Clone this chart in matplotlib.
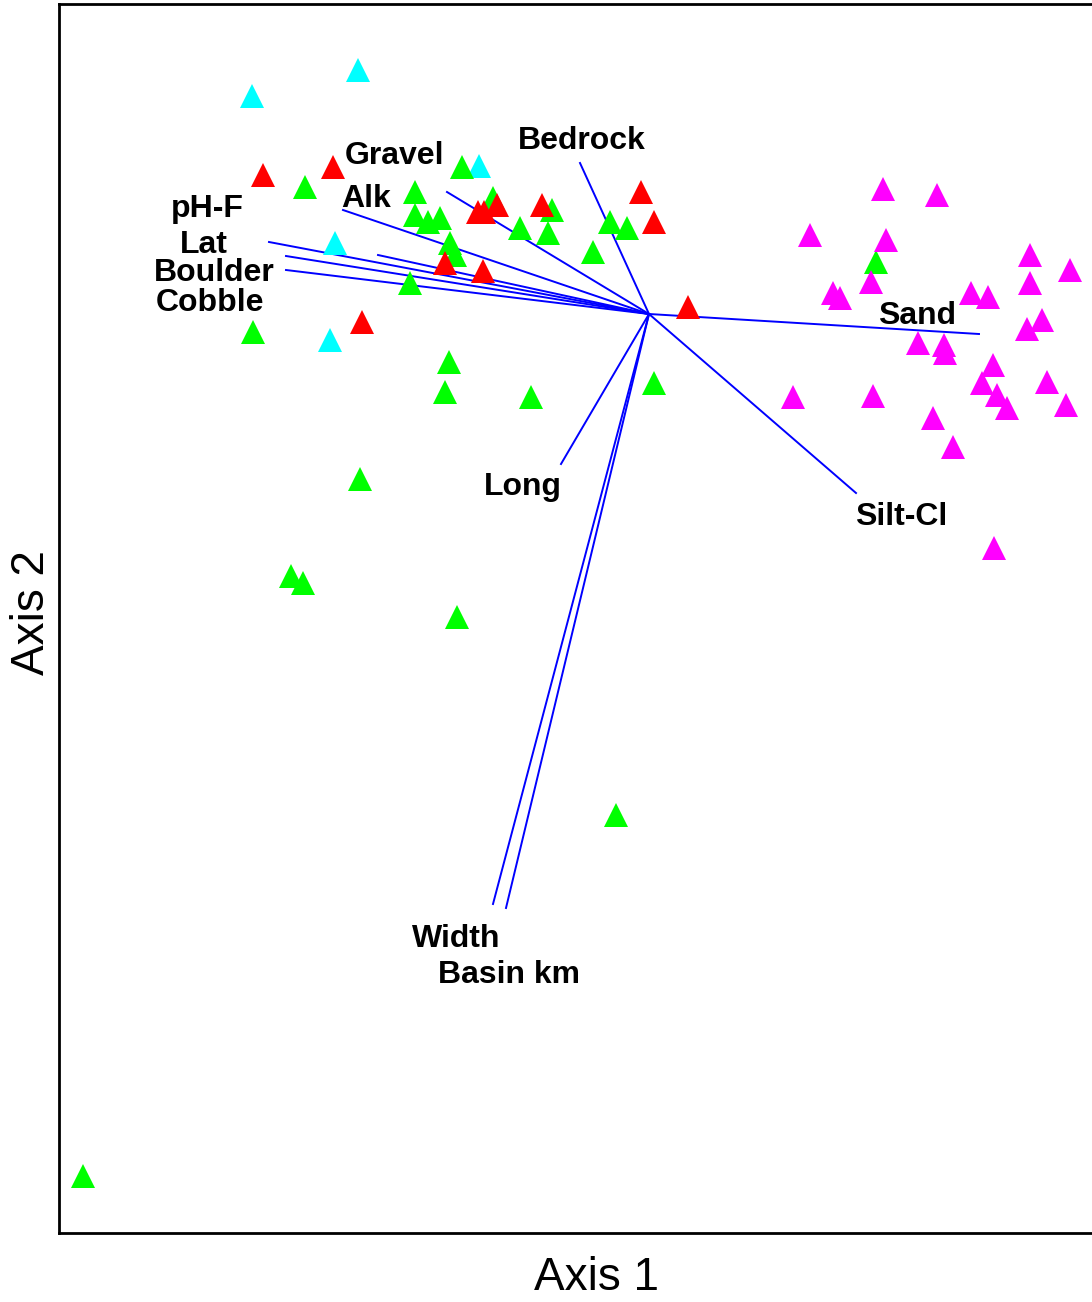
import matplotlib
matplotlib.use('Agg')
from matplotlib import pyplot as plt

plt.rcParams['font.family'] = ['Liberation Sans', 'DejaVu Sans']

# sample scores (screen units)
cyan_x = [252, 358, 479, 335, 330]
cyan_y = [96, 70, 166, 243, 340]

green_x = [462, 305, 415, 415, 428, 440, 493, 520, 552, 548, 593, 610, 627, 450, 455, 410,
           253, 449, 445, 531, 654, 360, 291, 303, 457, 616, 83, 876]
green_y = [167, 187, 192, 215, 222, 218, 198, 228, 210, 233, 252, 222, 228, 243, 255, 283,
           332, 362, 392, 397, 383, 479, 576, 583, 617, 815, 1176, 262]

red_x = [263, 333, 478, 484, 497, 542, 641, 654, 445, 483, 688, 362]
red_y = [175, 167, 212, 212, 205, 205, 192, 222, 263, 271, 307, 322]

mag_x = [883, 937, 810, 886, 871, 833, 840, 971, 988, 1030, 1030, 1070, 1042, 1027, 918, 944,
         945, 993, 982, 997, 1007, 1047, 1066, 933, 953, 793, 873, 994]
mag_y = [189, 195, 235, 240, 282, 293, 298, 293, 297, 255, 283, 270, 320, 329, 343, 345,
         353, 365, 383, 395, 408, 382, 405, 418, 447, 397, 396, 548]

# joint plot vectors
origin = (649, 314)
vec_names = ['Bedrock', 'Gravel', 'Alk', 'pH-F', 'Lat', 'Boulder', 'Cobble',
             'Sand', 'Silt-Cl', 'Long', 'Width', 'Basin km']
vec_x = [580, 447, 343, 269, 286, 286, 378, 979, 856, 561, 493, 506]
vec_y = [163, 192, 210, 242, 256, 270, 255, 334, 493, 464, 904, 908]
lab_x = [582, 395, 366, 207, 204, 214, 210, 917, 901, 523, 456, 509]
lab_y = [141, 156, 199, 209, 245, 273, 303, 316, 517, 487, 939, 975]

fig = plt.figure(figsize=(10.92, 13.02), dpi=100)
ax = fig.add_axes([59/1092, 69/1302, 1041/1092, 1229/1302])

for vx, vy in zip(vec_x, vec_y):
    ax.plot([origin[0], vx], [origin[1], vy], color='#0000FF', lw=1.4, zorder=2)

ms = 17
ax.plot(cyan_x, cyan_y, '^', color='#00FFFF', ms=ms, mew=0, zorder=3)
ax.plot(green_x, green_y, '^', color='#00FF00', ms=ms, mew=0, zorder=4)
ax.plot(red_x, red_y, '^', color='#FF0000', ms=ms, mew=0, zorder=5)
ax.plot(mag_x, mag_y, '^', color='#FF00FF', ms=ms, mew=0, zorder=5)

for name, tx, ty in zip(vec_names, lab_x, lab_y):
    ax.text(tx, ty, name, fontsize=23, fontweight='bold', ha='center', va='center', zorder=6)

ax.set_xlim(59, 1100)
ax.set_ylim(1233, 4)
ax.set_xticks([])
ax.set_yticks([])
for sp in ax.spines.values():
    sp.set_linewidth(2)

fig.text(597/1092, 1 - 1278/1302, 'Axis 1', fontsize=33, ha='center', va='center')
fig.text(32/1092, 1 - 613/1302, 'Axis 2', fontsize=33, ha='center', va='center', rotation=90)

plt.savefig('out.png', dpi=100)
